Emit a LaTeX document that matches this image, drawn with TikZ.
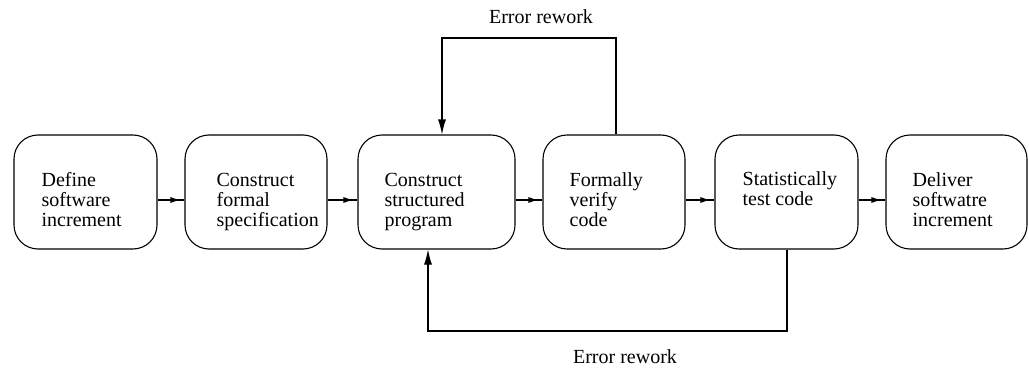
\documentclass[tikz,border=0pt]{standalone}
\usepackage{fontspec}
\newfontfamily\diagfont{Liberation Serif}
\usetikzlibrary{arrows.meta,calc,decorations.markings}
\begin{document}
\begin{tikzpicture}[x=1pt,y=-1pt,
  stepbox/.style={draw,line width=1.1pt,rounded corners=24pt,minimum height=114pt,inner sep=0pt},
  boxtext/.style={anchor=base west,align=left,inner sep=0pt,font=\diagfont\fontsize{20}{20}\selectfont},
  lbl/.style={inner sep=0pt,font=\diagfont\fontsize{20}{20}\selectfont},
  flow/.style={line width=1.1pt,postaction={decorate},decoration={markings,mark=at position -4pt with {\arrow{Latex[length=10pt,width=6pt]}}}},
  loop/.style={line width=1.1pt,-{Latex[length=15pt,width=8pt]}}]
\useasboundingbox (0,0) rectangle (1029,369);
\node[stepbox,minimum width=143pt] (b1) at (85.5,192) {};
\node[stepbox,minimum width=142pt] (b2) at (256,192) {};
\node[stepbox,minimum width=157pt] (b3) at (436.5,192) {};
\node[stepbox,minimum width=142pt] (b4) at (614,192) {};
\node[stepbox,minimum width=143pt] (b5) at (786.5,192) {};
\node[stepbox,minimum width=141pt] (b6) at (956.5,192) {};
\node[boxtext] (t1) at ($(b1.north west)+(28,92)$) {Define\\software\\increment};
\node[boxtext] (t2) at ($(b2.north west)+(32,92)$) {Construct\\formal\\specification};
\node[boxtext] (t3) at ($(b3.north west)+(27,92)$) {Construct\\structured\\program};
\node[boxtext] (t4) at ($(b4.north west)+(27,92)$) {Formally\\verify\\code};
\node[boxtext] (t5) at ($(b5.north west)+(28,71)$) {Statistically\\test code};
\node[boxtext] (t6) at ($(b6.north west)+(27,92)$) {Deliver\\softwatre\\increment};
\foreach \a/\b in {b1/b2,b2/b3,b3/b4,b4/b5,b5/b6}
  \draw[flow] ($(\a.east)+(0,8)$) -- ($(\b.west)+(0,8)$);
\coordinate (ta) at (616,38);
\coordinate (tb) at (442,38);
\draw[loop] (b4.north -| ta) -- (ta) -- (tb) -- (b3.north -| tb);
\coordinate (ba) at (787,331);
\coordinate (bb) at (428,331);
\draw[loop] (b5.south -| ba) -- (ba) -- (bb) -- (b3.south -| bb);
\node[lbl] (l1) at (541,17) {Error rework};
\node[lbl] (l2) at (625,357) {Error rework};
\end{tikzpicture}
\end{document}
